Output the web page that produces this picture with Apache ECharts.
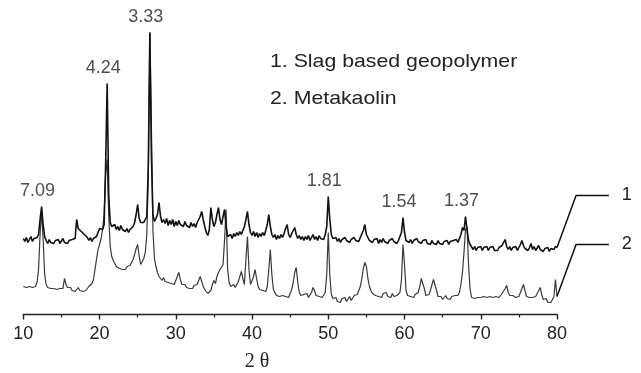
<!DOCTYPE html>
<html><head><meta charset="utf-8">
<script src="https://cdn.jsdelivr.net/npm/echarts@6/dist/echarts.min.js"></script>
<style>html,body{margin:0;padding:0;background:#fff}#c{width:641px;height:373px}</style>
</head><body><div id="c"></div><script>
// 2θ sampling grid (degrees)
const twoThetaStart = 10;
const twoThetaStep = 0.2;
// Trace 1: slag based geopolymer (offset intensity, a.u.) — rows of 2° (10 samples)
const slagIntensity = [
  76, 73, 77, 72, 75, 78, 73, 76, 74, 77,   // 10
  80, 95, 108, 90, 78, 74, 71, 75, 72, 74,  // 12
  71, 74, 72, 75, 71, 73, 76, 72, 74, 71,   // 14
  74, 72, 75, 73, 76, 95, 86, 88, 83, 85,   // 16
  80, 82, 77, 74, 77, 73, 76, 74, 78, 82,   // 18
  86, 88, 85, 90, 150, 231, 120, 92, 88, 86,// 20
  90, 85, 88, 84, 89, 85, 87, 83, 86, 82,   // 22
  85, 83, 88, 92, 100, 110, 96, 92, 94, 92, // 24
  95, 98, 150, 282, 160, 100, 93, 96, 100, 112, // 26
  98, 92, 95, 91, 96, 89, 94, 90, 95, 88,   // 28
  93, 89, 94, 90, 92, 88, 93, 89, 91, 87,   // 30
  92, 88, 91, 87, 92, 93, 98, 103, 95, 88,  // 32
  82, 79, 85, 107, 95, 88, 92, 100, 107, 95,// 34
  90, 98, 105, 88, 78, 77, 80, 76, 81, 78,  // 36
  82, 79, 83, 80, 84, 88, 95, 103, 90, 82,  // 38
  79, 83, 78, 82, 77, 81, 78, 82, 79, 84,   // 40
  90, 100, 88, 80, 77, 80, 75, 79, 76, 80,  // 42
  77, 81, 86, 90, 80, 77, 81, 83, 87, 80,   // 44
  76, 79, 75, 78, 74, 78, 75, 79, 74, 77,   // 46
  80, 75, 78, 74, 79, 76, 78, 75, 80, 88,   // 48
  118, 95, 80, 76, 74, 77, 73, 76, 72, 75,  // 50
  73, 77, 74, 76, 72, 75, 73, 77, 74, 76,   // 52
  73, 77, 78, 84, 90, 80, 77, 74, 76, 72,   // 54
  75, 73, 76, 71, 75, 72, 76, 73, 75, 71,   // 56
  74, 72, 76, 73, 75, 71, 74, 76, 82, 97,   // 58
  82, 74, 76, 72, 75, 71, 74, 72, 76, 73,   // 60
  75, 71, 74, 72, 75, 71, 73, 70, 74, 71,   // 62
  73, 70, 74, 71, 73, 70, 73, 71, 74, 70,   // 64
  73, 71, 74, 72, 75, 72, 76, 80, 87, 84,   // 66
  98, 85, 74, 70, 68, 65, 68, 64, 67, 65,   // 68
  68, 64, 67, 65, 68, 64, 67, 65, 68, 64,   // 70
  66, 64, 67, 65, 69, 72, 75, 68, 65, 68,   // 72
  64, 67, 65, 68, 64, 67, 70, 74, 69, 66,   // 74
  68, 64, 67, 71, 65, 68, 64, 66, 69, 65,   // 76
  67, 63, 66, 64, 67, 63, 66, 64, 65, 68,   // 78
  67                                        // 80
];
// Trace 2: metakaolin
const metakaolinIntensity = [
  28, 30, 27, 29, 28, 30, 27, 29, 28, 32,   // 10
  45, 80, 103, 75, 40, 30, 27, 29, 26, 28,  // 12
  26, 28, 25, 27, 26, 28, 26, 36, 30, 27,   // 14
  25, 27, 24, 26, 23, 25, 27, 24, 26, 23,   // 16
  25, 24, 26, 28, 30, 31, 35, 45, 55, 65,   // 18
  70, 76, 85, 100, 140, 155, 100, 68, 58, 54, // 20
  52, 48, 49, 46, 48, 45, 47, 45, 48, 46,   // 22
  49, 52, 55, 60, 66, 70, 58, 50, 49, 56,   // 24
  62, 80, 140, 282, 190, 85, 56, 48, 42, 38, // 26
  36, 34, 37, 33, 35, 32, 34, 31, 33, 30,   // 28
  32, 38, 42, 35, 30, 28, 30, 27, 29, 26,   // 30
  28, 26, 29, 27, 30, 32, 38, 36, 28, 25,   // 32
  23, 21, 20, 24, 30, 34, 31, 38, 42, 45,   // 34
  44, 50, 75, 105, 45, 32, 28, 26, 30, 27,  // 36
  29, 33, 38, 43, 36, 30, 55, 78, 45, 30,   // 38
  32, 38, 45, 36, 28, 25, 27, 24, 26, 23,   // 40
  28, 45, 65, 40, 25, 22, 19, 21, 18, 20,   // 42
  19, 21, 18, 20, 17, 21, 25, 32, 42, 47,   // 44
  32, 22, 19, 17, 20, 18, 21, 17, 19, 22,   // 46
  27, 24, 19, 21, 18, 20, 17, 19, 22, 40,   // 48
  82, 40, 20, 16, 14, 17, 13, 15, 12, 16,   // 50
  14, 17, 13, 15, 18, 14, 16, 19, 17, 20,   // 52
  22, 28, 36, 46, 52, 48, 36, 28, 24, 21,   // 54
  22, 19, 21, 18, 20, 17, 21, 19, 22, 18,   // 56
  20, 17, 21, 18, 20, 19, 17, 22, 35, 70,   // 58
  50, 24, 19, 21, 18, 20, 17, 20, 18, 22,   // 60
  28, 36, 37, 26, 19, 17, 20, 24, 30, 35,   // 62
  33, 24, 18, 16, 18, 15, 17, 19, 16, 18,   // 64
  15, 18, 16, 19, 17, 19, 22, 30, 42, 62,   // 66
  85, 88, 50, 25, 17, 19, 16, 18, 17, 19,   // 68
  17, 19, 18, 20, 17, 19, 18, 20, 17, 19,   // 70
  18, 20, 17, 19, 21, 23, 26, 29, 22, 19,   // 72
  17, 19, 18, 17, 19, 18, 22, 26, 30, 24,   // 74
  18, 16, 17, 15, 17, 16, 18, 21, 24, 27,   // 76
  20, 15, 13, 16, 12, 14, 12, 15, 18, 35,   // 78
  18                                        // 80
];
// d-spacing annotations (Å) at peak positions
const peakTwoTheta = [12.4, 21.0, 26.6, 50.0, 59.8, 68.0];
const peakDSpacing = ['7.09', '4.24', '3.33', '1.81', '1.54', '1.37'];
// x tick labels
const xTickLabels = ['10', '20', '30', '40', '50', '60', '70', '80'];
const xAxisTitle = '2 θ';
const legendLines = ['1. Slag based geopolymer', '2. Metakaolin'];
const traceTags = ['1', '2'];
// leader lines from trace ends to tags (2θ of the bends, rise in a.u.)
const tagLeaderTwoTheta = [80, 82.5, 86.8];
const tagLeaderRise = 52;

const FONT = '"Liberation Sans", Arial, sans-serif';
const toPairs = arr => arr.map((v, i) => [+(twoThetaStart + i * twoThetaStep).toFixed(2), v]);

const peakMarks = peakTwoTheta.map((t, k) => {
  const i = Math.round((t - twoThetaStart) / twoThetaStep);
  let top = -Infinity;
  for (let j = i - 1; j <= i + 1; j++) top = Math.max(top, slagIntensity[j], metakaolinIntensity[j]);
  return { value: [t, top], label: { formatter: peakDSpacing[k] } };
});

// geometry: plot area from px 23.3 to 557 for 10..80°, extended grid reaches 90°
const gLeft = 23.3, gRight = 84, W = 641;
const pxPerDeg = (W - gLeft - gRight) / 70;
const extRight = W - gLeft - pxPerDeg * 80;

function leader(arr, tag) {
  const end = arr[arr.length - 1];
  return {
    type: 'line', xAxisIndex: 1, yAxisIndex: 1, symbol: 'none', silent: true, z: 3,
    data: [[tagLeaderTwoTheta[0], end], [tagLeaderTwoTheta[1], end + tagLeaderRise], [tagLeaderTwoTheta[2], end + tagLeaderRise]],
    lineStyle: { color: '#111', width: 1.5 },
    endLabel: { show: true, formatter: tag, distance: 13, fontSize: 18, fontFamily: FONT, color: '#222' }
  };
}

const chart = echarts.init(document.getElementById('c'), null, { renderer: 'canvas' });
chart.setOption({
  animation: false,
  backgroundColor: '#fff',
  grid: [
    { left: gLeft, right: gRight, top: 14.5, bottom: 58.5 },
    { left: gLeft, right: extRight, top: 14.5, bottom: 58.5 }
  ],
  xAxis: [{
    type: 'value', gridIndex: 0, min: 10, max: 80, interval: 10,
    axisLine: { show: true, lineStyle: { color: '#222', width: 1.4 } },
    axisTick: { show: true, length: 5, lineStyle: { color: '#222', width: 1.4 } },
    minorTick: { show: true, splitNumber: 2, length: 3, lineStyle: { color: '#222', width: 1.2 } },
    splitLine: { show: false },
    axisLabel: { margin: 11, fontSize: 18, fontFamily: FONT, color: '#222',
      formatter: v => xTickLabels[Math.round((v - 10) / 10)] }
  }, {
    type: 'value', gridIndex: 1, min: 10, max: 90, show: false
  }],
  yAxis: [
    { type: 'value', gridIndex: 0, min: 0, max: 300, show: false },
    { type: 'value', gridIndex: 1, min: 0, max: 300, show: false }
  ],
  graphic: [
    ...legendLines.map((t, k) => ({
      type: 'text', x: 270, y: 52 + k * 37, scaleX: 1.12,
      style: { text: t, fontSize: 19, fontFamily: FONT, fill: '#222', verticalAlign: 'top' }
    })),
    { type: 'text', x: 257, y: 362,
      style: { text: xAxisTitle, fontSize: 20, fontFamily: '"Liberation Serif", "Times New Roman", serif', fill: '#222', align: 'center', verticalAlign: 'middle' } }
  ],
  series: [
    { type: 'line', name: 'Metakaolin', data: toPairs(metakaolinIntensity), symbol: 'none', z: 2,
      lineStyle: { color: '#3a3a3a', width: 1.2 } },
    { type: 'line', name: 'Slag based geopolymer', data: toPairs(slagIntensity), symbol: 'none', z: 2,
      lineStyle: { color: '#111', width: 1.6 } },
    leader(slagIntensity, traceTags[0]),
    leader(metakaolinIntensity, traceTags[1]),
    { type: 'scatter', data: peakMarks, symbolSize: 0, silent: true, z: 5,
      label: { show: true, position: 'top', distance: 6, offset: [-4, 0], fontSize: 18, fontFamily: FONT, color: '#222' } }
  ]
});
</script></body></html>
